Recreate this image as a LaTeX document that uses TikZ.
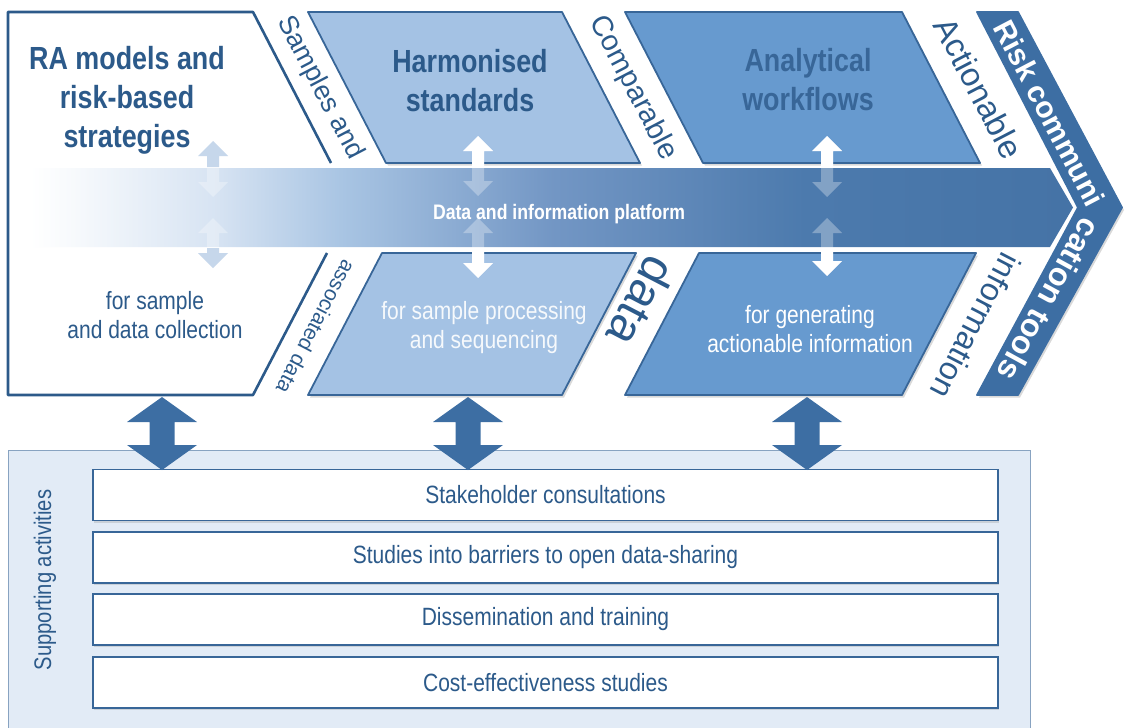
\documentclass[tikz,border=0pt]{standalone}
\usepackage{fontspec}
\setmainfont{Liberation Sans}[FakeStretch=0.84]
\newfontfamily\bandfont{Liberation Sans}
\usetikzlibrary{shadows}

\definecolor{inkblue}{RGB}{44,90,138}
\definecolor{edgeblue}{RGB}{56,102,152}
\definecolor{paleblue}{RGB}{164,194,228}
\definecolor{midblue}{RGB}{103,154,207}
\definecolor{deepblue}{RGB}{61,110,163}
\definecolor{mistblue}{RGB}{226,235,246}
\definecolor{hazeblue}{RGB}{198,215,235}

\pgfdeclarehorizontalshading{platform}{100bp}{rgb(0bp)=(1,1,1); rgb(25bp)=(1,1,1);
	rgb(27bp)=(0.97,0.98,0.99); rgb(34bp)=(0.84,0.89,0.95); rgb(40bp)=(0.66,0.77,0.89);
	rgb(50bp)=(0.45,0.59,0.77); rgb(62bp)=(0.30,0.48,0.68); rgb(75bp)=(0.27,0.45,0.65);
	rgb(100bp)=(0.27,0.45,0.65)}

\begin{document}
\begin{tikzpicture}[x=1pt,y=-1pt,
		stage/.style={fill=#1,draw=edgeblue,line width=1.8pt,line join=round,
			drop shadow={shadow xshift=2pt,shadow yshift=-2.5pt,opacity=.3}},
		title/.style={text=inkblue,font=\bfseries\fontsize{32}{39}\selectfont,align=center},
		note/.style={font=\fontsize{25}{29}\selectfont,align=center},
		bandtext/.style={text=inkblue,font=\bandfont\fontsize{#1}{#1}\selectfont,inner sep=0pt},
		risktext/.style={text=white,font=\bandfont\bfseries\fontsize{#1}{#1}\selectfont,inner sep=0pt},
		activity/.style={draw=edgeblue,line width=1.3pt,fill=white,minimum width=905pt,
			minimum height=51pt,text=inkblue,font=\fontsize{25}{29}\selectfont,
			drop shadow={shadow xshift=1pt,shadow yshift=-2pt,opacity=.25}},
		linkarrow/.style={fill=deepblue,drop shadow={shadow xshift=3pt,shadow yshift=-3pt,fill=gray!80,opacity=.8}},
		pics/dblarrow/.style n args={4}{code={
			\path[pic actions] (0,0) -- (#3,#4) -- (#2,#4) -- (#2,#1-#4) -- (#3,#1-#4) -- (0,#1)
				-- (-#3,#1-#4) -- (-#2,#1-#4) -- (-#2,#4) -- (-#3,#4) -- cycle;}}]
	\useasboundingbox (0,0) rectangle (1125,728);

	% supporting activities
	\path[fill=mistblue,draw=edgeblue!60,line width=1pt] (8,450) rectangle (1030,740);
	\node[rotate=90,text=inkblue,font=\fontsize{24}{24}\selectfont] (supp) at (45,580) {Supporting activities};
	\node[activity] (consult) at (545.5,495) {Stakeholder consultations};
	\node[activity] (barrier) at (545.5,557.5) {Studies into barriers to open data-sharing};
	\node[activity] (dissem) at (545.5,619.5) {Dissemination and training};
	\node[activity] (costs) at (545.5,682.5) {Cost-effectiveness studies};

	\foreach \x in {162,468,807}
		\pic[linkarrow] at (\x,397) {dblarrow={73}{12.5}{35}{25}};

	% chevron stages
	\draw[draw=inkblue,line width=2.6pt,line join=round,fill=white]
		(331,163) -- (253,12) -- (8,12) -- (8,395) -- (253,395) -- (327,253);
	\path[stage=paleblue] (308,12) -- (562,12) -- (640,163) -- (386,163) -- cycle;
	\path[stage=paleblue] (382,253) -- (636,253) -- (562,395) -- (308,395) -- cycle;
	\path[stage=midblue] (625,12) -- (902,12) -- (980,163) -- (703,163) -- cycle;
	\path[stage=midblue] (699,253) -- (976,253) -- (902,395) -- (625,395) -- cycle;
	\path[stage=deepblue,draw=deepblue] (977,12) -- (1018,12) -- (1122,207.5) -- (1018,395)
		-- (977,395) -- (1078,207.5) -- cycle;

	\node[bandtext=27,rotate=-62.5] (samples) at (320,88) {Samples and};
	\node[bandtext=21,rotate=-117.5] (assoc) at (316,327) {associated data};
	\node[bandtext=29,rotate=-62.5] (compar) at (633,88) {Comparable};
	\node[bandtext=48,rotate=-117.5] (datalbl) at (642,302) {data};
	\node[bandtext=33,rotate=-62.5] (action) at (979,88) {Actionable};
	\node[bandtext=32,rotate=-117.5] (inform) at (976,326) {information};

	\node[risktext=30,rotate=-62.4] (riskup) at (1049.5,113) {Risk communi};
	\node[risktext=32,rotate=-118.7] (risklow) at (1049,300) {cation tools};

	% platform
	\path[shading=platform] (30,168) -- (1050,168) -- (1073,207.5) -- (1050,247) -- (30,247) -- cycle;
	\node[text=white,font=\bfseries\fontsize{21}{21}\selectfont] (dip) at (559,214) {Data and information platform};

	\foreach \x/\t/\l in {213/141/56,478/136/60,827/136/61,213/218/50,478/218/60,827/218/58}
		\pic[fill=white,fill opacity=.3] at (\x,\t) {dblarrow={\l}{6}{15}{15}};
	\begin{scope}
		\clip (0,0) rectangle (1125,167) (0,248) rectangle (1125,728);
		\foreach \t/\l in {141/56,218/50}
			\pic[fill=hazeblue] at (213,\t) {dblarrow={\l}{6}{15}{15}};
		\foreach \x/\t/\l in {478/136/60,827/136/61,478/218/60,827/218/58}
			\pic[fill=white] at (\x,\t) {dblarrow={\l}{6}{15}{15}};
	\end{scope}

	\node[title] (ramodels) at (127,100) {RA models and\\risk-based\\strategies};
	\node[note,text=inkblue] (collect) at (155,315) {for sample\\and data collection};
	\node[title] (harmon) at (470,81) {Harmonised\\standards};
	\node[note,text=white!90!paleblue] (process) at (484,328) {for sample processing\\and sequencing};
	\node[title,text=edgeblue] (workflow) at (808,80) {Analytical\\workflows};
	\node[note,text=white] (generate) at (810,329) {for generating\\actionable information};
\end{tikzpicture}
\end{document}
